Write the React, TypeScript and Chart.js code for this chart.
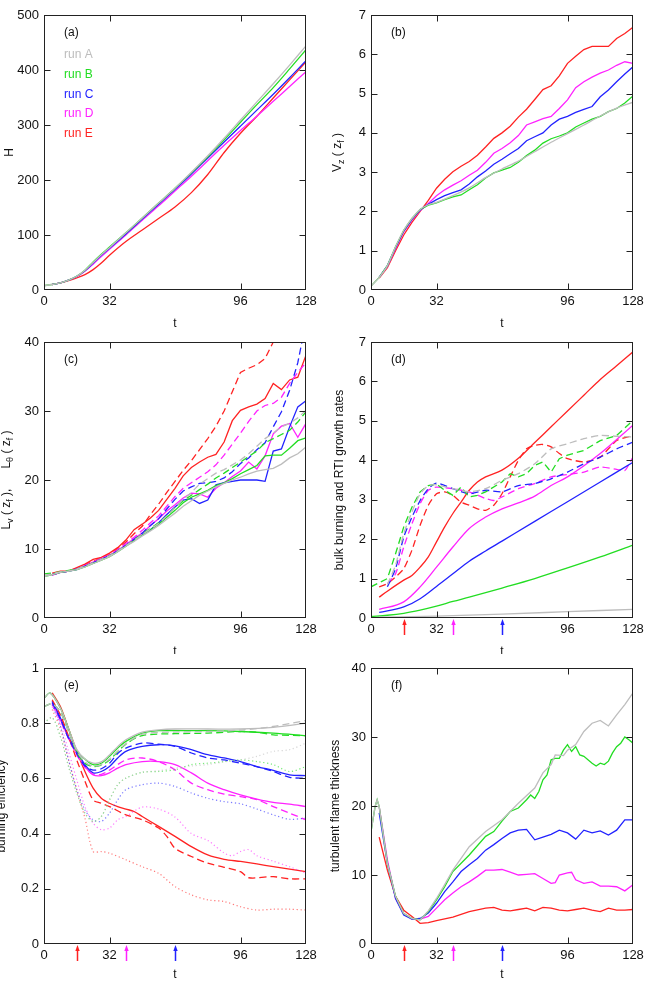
import React, { useEffect, useRef } from 'react';
import { Chart, registerables } from 'chart.js';
Chart.register(...registerables);

const FONT = '"Liberation Sans", Arial, Helvetica, sans-serif';
const GRAY = '#bdbdbd';
const GREEN = '#22dd22';
const BLUE = '#2222ff';
const MAGENTA = '#ff22ff';
const RED = '#ff2222';
const RUNS = ['run A', 'run B', 'run C', 'run D', 'run E'];
const RUN_COLORS = [GRAY, GREEN, BLUE, MAGENTA, RED];
const X_TICKS = [0, 32, 96, 128];
const ARROW_T = [16, 40, 64];
const ARROW_COLORS = [RED, MAGENTA, BLUE];

// ---------- (a) H ----------
const aGray = [[0,8],[4,10],[8,13],[12,18],[16,25],[20,36],[24,50],[28,64],[32,77],[40,104],[48,131],[56,158],[64,185],[72,214],[80,244],[88,276],[96,309],[104,342],[112,375],[120,409],[128,444]];
const aGreen = [[0,8],[4,10],[8,13],[12,18],[16,25],[20,36],[24,51],[28,65],[32,78],[40,104],[48,131],[56,158],[64,185],[72,213],[80,242],[88,273],[96,305],[104,337],[112,368],[120,402],[128,437]];
const aBlue = [[4,10],[8,13],[12,18],[16,25],[20,35],[24,49],[28,63],[32,76],[40,102],[48,129],[56,156],[64,183],[72,211],[80,240],[88,269],[96,298],[104,327],[112,356],[120,386],[128,417]];
const aMagenta = [[4,10],[8,13],[12,18],[16,24],[20,34],[24,47],[28,61],[32,74],[40,100],[48,127],[56,153],[64,180],[72,207],[80,235],[88,263],[96,290],[104,316],[112,343],[120,370],[128,397]];
const aRed = [[4,10],[8,13],[12,17],[16,22],[20,28],[24,37],[28,49],[32,63],[40,88],[48,109],[56,130],[64,151],[72,177],[80,210],[88,250],[96,285],[104,316],[112,349],[120,382],[128,415]];

// ---------- (b) Vz(zf) ----------
const bGray = [[0,0.1],[4,0.32],[8,0.62],[12,1.1],[16,1.52],[20,1.82],[24,2.05],[28,2.17],[32,2.23],[40,2.4],[48,2.6],[56,2.86],[64,3.08],[72,3.28],[80,3.52],[88,3.76],[96,3.98],[104,4.2],[112,4.43],[120,4.63],[128,4.78]];
const bGreen = [[0,0.1],[4,0.32],[8,0.62],[12,1.1],[16,1.52],[20,1.82],[24,2.05],[28,2.16],[32,2.22],[36,2.3],[40,2.37],[44,2.42],[48,2.55],[52,2.68],[56,2.85],[60,2.98],[64,3.05],[68,3.12],[72,3.25],[76,3.42],[80,3.56],[84,3.74],[88,3.85],[92,3.92],[96,4.0],[100,4.15],[104,4.25],[108,4.35],[112,4.42],[116,4.54],[120,4.62],[124,4.76],[128,4.94]];
const bBlue = [[4,0.32],[8,0.62],[12,1.08],[16,1.5],[20,1.8],[24,2.04],[28,2.18],[32,2.3],[36,2.4],[40,2.48],[44,2.55],[48,2.7],[52,2.88],[56,3.03],[60,3.2],[64,3.33],[68,3.47],[72,3.6],[76,3.8],[80,3.9],[84,4.0],[88,4.2],[92,4.35],[96,4.42],[100,4.52],[104,4.6],[108,4.67],[112,4.92],[116,5.09],[120,5.3],[124,5.5],[128,5.68]];
const bMagenta = [[4,0.32],[8,0.6],[12,1.06],[16,1.48],[20,1.78],[24,2.02],[28,2.2],[32,2.4],[36,2.55],[40,2.67],[44,2.78],[48,2.92],[52,3.05],[56,3.25],[60,3.48],[64,3.6],[68,3.75],[72,3.93],[76,4.2],[80,4.28],[84,4.36],[88,4.42],[92,4.62],[96,4.84],[100,5.15],[104,5.3],[108,5.42],[112,5.52],[116,5.6],[120,5.72],[124,5.81],[128,5.77]];
const bRed = [[4,0.3],[8,0.57],[12,1.0],[16,1.4],[20,1.72],[24,2.0],[28,2.28],[32,2.59],[36,2.82],[40,3.01],[44,3.15],[48,3.27],[52,3.43],[56,3.64],[60,3.86],[64,4.0],[68,4.17],[72,4.4],[76,4.6],[80,4.85],[84,5.1],[88,5.2],[92,5.45],[96,5.77],[100,5.95],[104,6.12],[108,6.2],[112,6.2],[116,6.2],[120,6.4],[124,6.53],[128,6.69]];

// ---------- (c) Lv(zf) solid, Ltheta(zf) dashed ----------
const cGraySolid = [[0,6.0],[4,6.3],[8,6.6],[12,6.8],[16,7.0],[20,7.4],[24,7.9],[28,8.4],[32,8.9],[36,9.6],[40,10.4],[44,11.1],[48,11.9],[52,12.6],[56,13.4],[60,14.3],[64,15.2],[68,16.2],[72,17.0],[76,17.8],[80,18.4],[84,19.0],[88,19.5],[92,20.0],[96,20.4],[100,20.9],[104,21.3],[108,21.5],[112,21.7],[116,22.3],[120,23.2],[124,23.8],[128,24.8]];
const cGrayDash = [[0,6.2],[4,6.4],[8,6.7],[12,6.8],[16,7.1],[20,7.5],[24,8.0],[28,8.5],[32,9.0],[36,9.7],[40,10.5],[44,11.3],[48,12.1],[52,12.9],[56,13.7],[60,14.8],[64,16.0],[68,17.2],[72,18.2],[76,19.4],[80,20.2],[84,21.0],[88,21.5],[92,22.2],[96,22.9],[100,23.8],[104,24.9],[108,26.0],[112,26.8],[116,27.7],[120,28.2],[124,29.0],[128,30.1]];
const cGreenSolid = [[0,6.0],[4,6.3],[8,6.6],[12,6.8],[16,7.0],[20,7.4],[24,7.9],[28,8.4],[32,8.9],[36,9.6],[40,10.4],[44,11.2],[48,12.0],[52,12.8],[56,13.6],[60,14.6],[64,15.6],[68,16.7],[72,17.5],[76,18.0],[80,18.5],[84,19.2],[88,19.6],[92,20.2],[96,20.9],[100,21.5],[104,22.1],[108,23.5],[112,23.6],[116,23.6],[120,24.6],[124,25.7],[128,26.1]];
const cGreenDash = [[0,6.4],[4,6.5],[8,6.7],[12,6.9],[16,7.1],[20,7.5],[24,8.0],[28,8.5],[32,9.0],[36,9.7],[40,10.5],[44,11.3],[48,12.2],[52,13.0],[56,13.8],[60,14.8],[64,16.0],[68,17.0],[72,17.8],[76,18.6],[80,19.4],[84,20.3],[88,21.0],[92,21.8],[96,22.6],[100,23.4],[104,24.2],[108,25.4],[112,26.0],[116,26.6],[120,27.2],[124,28.4],[128,29.9]];
const cBlueSolid = [[4,6.3],[8,6.6],[12,6.8],[16,7.0],[20,7.5],[24,8.0],[28,8.5],[32,9.0],[36,9.7],[40,10.5],[44,11.3],[48,12.0],[52,12.8],[56,13.8],[60,15.0],[64,16.1],[68,17.1],[72,17.3],[76,16.6],[80,17.1],[84,19.3],[88,19.6],[92,19.8],[96,20.0],[100,20.0],[104,20.0],[108,19.8],[112,24.2],[116,24.5],[120,27.7],[124,30.6],[128,31.5]];
const cBlueDash = [[4,6.3],[8,6.6],[12,6.8],[16,7.1],[20,7.5],[24,8.0],[28,8.5],[32,9.0],[36,9.7],[40,10.5],[44,11.4],[48,12.3],[52,13.4],[56,14.4],[60,15.8],[64,17.2],[68,18.4],[72,19.0],[76,19.5],[80,19.6],[84,19.8],[88,20.3],[92,21.2],[96,22.4],[100,23.2],[104,24.4],[108,25.4],[112,27.7],[116,29.9],[120,33.0],[124,37.0],[128,43.0]];
const cMagentaSolid = [[4,6.2],[8,6.6],[12,6.8],[16,7.1],[20,7.6],[24,8.1],[28,8.6],[32,9.1],[36,9.8],[40,10.6],[44,11.5],[48,12.3],[52,13.4],[56,14.4],[60,15.5],[64,16.4],[68,17.4],[72,18.1],[76,18.0],[80,17.5],[84,18.8],[88,19.6],[92,20.5],[96,21.3],[100,22.6],[104,21.6],[108,23.5],[112,26.7],[116,27.8],[120,28.2],[124,26.2],[128,28.2]];
const cMagentaDash = [[4,6.2],[8,6.6],[12,6.8],[16,7.1],[20,7.6],[24,8.1],[28,8.6],[32,9.1],[36,9.9],[40,10.8],[44,11.7],[48,12.7],[52,13.8],[56,14.8],[60,16.2],[64,17.6],[68,18.8],[72,19.6],[76,20.4],[80,21.2],[84,22.2],[88,23.6],[92,25.2],[96,26.8],[100,28.5],[104,30.0],[108,30.8],[112,31.1],[116,32.0],[120,34.0],[124,35.6],[128,37.0]];
const cRedSolid = [[4,6.5],[8,6.8],[12,6.8],[16,7.3],[20,7.8],[24,8.5],[28,8.8],[32,9.4],[36,10.2],[40,11.3],[44,12.8],[48,13.6],[52,14.5],[56,15.6],[60,17.2],[64,18.8],[68,20.6],[72,21.8],[76,22.6],[80,23.3],[84,23.7],[88,25.5],[92,28.6],[96,30.1],[100,30.6],[104,31.0],[108,31.8],[112,34.0],[116,33.1],[120,34.5],[124,34.9],[128,38.1]];
const cRedDash = [[4,6.3],[8,6.6],[12,6.8],[16,7.2],[20,7.7],[24,8.2],[28,8.7],[32,9.2],[36,10.0],[40,11.0],[44,12.2],[48,13.3],[52,15.0],[56,16.5],[60,18.2],[64,19.8],[68,21.4],[72,22.8],[76,24.4],[80,26.0],[84,27.8],[88,30.0],[92,32.8],[96,35.6],[100,36.2],[104,36.7],[108,37.6],[112,40.0],[116,42.5],[120,45.0]];

// ---------- (d) bulk burning (solid) and RTI growth rates (dashed) ----------
const dGraySolid = [[4,0.02],[32,0.05],[64,0.1],[96,0.16],[128,0.22]];
const dGreenSolid = [[0,0.04],[8,0.07],[16,0.12],[24,0.2],[32,0.3],[40,0.42],[48,0.53],[64,0.76],[80,1.0],[96,1.27],[112,1.55],[128,1.85]];
const dBlueSolid = [[4,0.14],[16,0.28],[24,0.49],[32,0.8],[40,1.12],[48,1.44],[56,1.7],[64,1.95],[80,2.45],[96,2.95],[112,3.45],[128,3.95]];
const dMagentaSolid = [[4,0.22],[16,0.41],[24,0.79],[32,1.29],[40,1.8],[48,2.27],[56,2.56],[64,2.77],[72,2.92],[80,3.09],[88,3.36],[96,3.58],[112,4.17],[128,4.89]];
const dRedSolid = [[4,0.53],[8,0.68],[16,0.96],[20,1.08],[24,1.29],[28,1.55],[32,1.93],[36,2.31],[40,2.65],[44,2.94],[48,3.24],[52,3.45],[56,3.58],[64,3.75],[72,4.05],[80,4.45],[88,4.85],[96,5.25],[104,5.65],[112,6.05],[120,6.4],[128,6.75]];
const dGrayDash = [[8,0.85],[12,1.34],[16,2.14],[20,2.69],[24,3.15],[28,3.36],[32,3.38],[40,3.28],[48,3.2],[56,3.28],[64,3.49],[72,3.66],[80,3.91],[88,4.29],[96,4.42],[104,4.55],[112,4.63],[120,4.61],[128,4.59]];
const dGreenDash = [[0,0.79],[8,1.0],[12,1.63],[16,2.31],[20,2.81],[24,3.2],[28,3.36],[32,3.4],[36,3.24],[40,3.11],[44,3.32],[48,3.07],[52,3.11],[56,3.2],[64,3.45],[68,3.66],[72,3.58],[76,3.66],[80,3.87],[84,3.96],[88,3.7],[92,4.04],[96,4.13],[104,4.25],[112,4.5],[120,4.63],[128,5.01]];
const dBlueDash = [[8,0.79],[12,1.25],[16,2.05],[20,2.56],[24,2.98],[28,3.28],[32,3.42],[40,3.28],[48,3.15],[56,3.24],[64,3.2],[72,3.36],[80,3.41],[88,3.53],[96,3.7],[104,3.91],[112,4.08],[120,4.29],[128,4.46]];
const dMagentaDash = [[8,0.87],[12,1.12],[16,1.8],[20,2.39],[24,2.9],[28,3.24],[32,3.32],[40,3.28],[48,3.2],[56,3.03],[60,2.98],[64,3.07],[72,3.28],[80,3.41],[88,3.58],[96,3.64],[104,3.7],[112,3.83],[120,3.77],[124,3.74],[128,4.08]];
const dRedDash = [[4,0.79],[8,0.87],[12,1.04],[16,1.25],[20,1.72],[24,2.35],[28,2.86],[32,3.15],[36,3.2],[40,3.11],[44,2.94],[48,2.86],[52,2.77],[56,2.73],[60,2.86],[64,3.15],[68,3.58],[72,4.0],[76,4.29],[80,4.38],[84,4.4],[88,4.34],[92,4.17],[96,4.04],[104,3.96],[112,4.08],[120,4.5],[128,4.63]];

// ---------- (e) burning efficiency: solid, dashed, dotted ----------
const eGraySolid = [[0,0.89],[3,0.91],[8,0.855],[12,0.78],[16,0.705],[20,0.67],[24,0.655],[28,0.66],[32,0.685],[36,0.715],[40,0.74],[48,0.768],[56,0.776],[64,0.779],[80,0.779],[96,0.779],[112,0.785],[128,0.8]];
const eGreenSolid = [[0,0.89],[3,0.91],[8,0.855],[12,0.78],[16,0.7],[20,0.67],[24,0.65],[28,0.655],[32,0.68],[36,0.71],[40,0.734],[48,0.764],[56,0.773],[64,0.773],[80,0.773],[96,0.77],[112,0.764],[128,0.755]];
const eBlueSolid = [[4,0.88],[8,0.82],[12,0.75],[16,0.7],[20,0.65],[24,0.62],[28,0.625],[32,0.643],[36,0.674],[40,0.698],[48,0.716],[56,0.722],[64,0.718],[72,0.704],[80,0.686],[88,0.674],[96,0.661],[104,0.643],[112,0.629],[120,0.613],[128,0.61]];
const eMagentaSolid = [[4,0.873],[8,0.813],[12,0.746],[16,0.69],[20,0.643],[24,0.613],[28,0.61],[32,0.62],[36,0.637],[40,0.65],[48,0.661],[56,0.661],[64,0.65],[72,0.62],[80,0.583],[88,0.559],[96,0.54],[104,0.525],[112,0.513],[120,0.507],[128,0.498]];
const eRedSolid = [[4,0.91],[8,0.86],[12,0.78],[16,0.698],[20,0.625],[24,0.565],[28,0.528],[32,0.51],[36,0.498],[40,0.489],[44,0.48],[48,0.462],[56,0.426],[64,0.39],[72,0.353],[80,0.323],[88,0.307],[96,0.299],[104,0.29],[112,0.28],[120,0.271],[128,0.262]];
const eGrayDash = [[0,0.86],[4,0.87],[8,0.84],[12,0.77],[16,0.7],[20,0.66],[24,0.645],[28,0.65],[32,0.67],[40,0.726],[48,0.76],[64,0.768],[80,0.77],[96,0.775],[112,0.788],[128,0.81]];
const eGreenDash = [[0,0.86],[4,0.87],[8,0.84],[12,0.77],[16,0.695],[20,0.655],[24,0.643],[28,0.648],[32,0.667],[40,0.724],[48,0.755],[64,0.762],[80,0.764],[96,0.77],[104,0.767],[112,0.758],[128,0.755]];
const eBlueDash = [[4,0.875],[8,0.815],[12,0.745],[16,0.69],[20,0.645],[24,0.63],[28,0.635],[32,0.655],[36,0.69],[40,0.71],[48,0.728],[56,0.724],[64,0.716],[72,0.692],[80,0.674],[88,0.667],[96,0.655],[104,0.643],[112,0.625],[120,0.604],[128,0.6]];
const eMagentaDash = [[4,0.87],[8,0.81],[12,0.745],[16,0.685],[20,0.64],[24,0.615],[28,0.615],[32,0.63],[40,0.667],[48,0.674],[56,0.661],[64,0.631],[72,0.583],[80,0.559],[88,0.543],[96,0.534],[104,0.523],[112,0.498],[120,0.474],[128,0.45]];
const eRedDash = [[4,0.885],[8,0.83],[12,0.752],[16,0.667],[20,0.59],[24,0.522],[28,0.51],[32,0.498],[40,0.468],[48,0.45],[56,0.42],[60,0.39],[64,0.347],[72,0.317],[80,0.293],[88,0.278],[96,0.262],[100,0.24],[112,0.244],[120,0.236],[128,0.236]];
const eGrayDot = [[0,0.8],[4,0.82],[8,0.752],[12,0.643],[16,0.547],[20,0.474],[24,0.444],[28,0.462],[32,0.522],[36,0.577],[40,0.601],[48,0.622],[56,0.628],[64,0.637],[72,0.645],[80,0.65],[88,0.66],[96,0.667],[104,0.68],[112,0.698],[120,0.704],[128,0.728]];
const eGreenDot = [[0,0.8],[4,0.82],[8,0.752],[12,0.643],[16,0.547],[20,0.474],[24,0.444],[28,0.462],[32,0.522],[36,0.577],[40,0.601],[48,0.622],[56,0.625],[64,0.631],[72,0.65],[80,0.655],[88,0.661],[96,0.667],[104,0.661],[112,0.65],[120,0.625],[128,0.643]];
const eBlueDot = [[4,0.867],[8,0.79],[12,0.667],[16,0.56],[20,0.486],[24,0.45],[28,0.444],[32,0.474],[36,0.522],[40,0.559],[48,0.577],[56,0.583],[64,0.571],[72,0.547],[80,0.528],[88,0.516],[96,0.508],[104,0.489],[112,0.468],[120,0.452],[128,0.456]];
const eMagentaDot = [[4,0.86],[8,0.8],[12,0.698],[16,0.595],[20,0.498],[24,0.438],[28,0.414],[32,0.42],[36,0.45],[40,0.462],[48,0.496],[56,0.489],[64,0.46],[72,0.4],[80,0.375],[88,0.33],[92,0.32],[96,0.335],[100,0.342],[104,0.32],[112,0.3],[120,0.28],[128,0.256]];
const eRedDot = [[4,0.85],[8,0.78],[12,0.667],[16,0.56],[20,0.456],[24,0.335],[28,0.335],[32,0.329],[40,0.305],[48,0.28],[56,0.256],[64,0.208],[72,0.178],[80,0.16],[88,0.154],[96,0.135],[104,0.123],[112,0.126],[120,0.126],[128,0.123]];

// ---------- (f) turbulent flame thickness ----------
const fGray = [[0,16.3],[2,19.9],[3,20.9],[4,19.9],[8,11.7],[12,6.9],[16,4.4],[20,3.7],[24,3.5],[28,4.8],[32,6.6],[36,8.6],[40,10.7],[48,14.1],[56,16.3],[64,18.0],[72,20.4],[80,22.6],[84,24.8],[88,26.0],[90,27.4],[94,27.3],[96,28.1],[100,28.9],[104,30.8],[108,32.0],[112,32.4],[116,31.6],[120,33.2],[124,34.7],[128,36.4]];
const fGreen = [[0,16.3],[2,19.9],[3,20.9],[4,19.9],[8,11.7],[12,6.9],[16,4.4],[20,3.7],[24,3.5],[28,4.7],[32,6.4],[36,8.3],[40,10.5],[48,12.9],[56,15.6],[60,16.3],[64,17.8],[68,19.2],[72,19.7],[76,20.9],[78,21.6],[80,21.1],[82,22.1],[84,23.8],[86,24.5],[88,26.7],[90,26.9],[92,26.9],[94,28.1],[96,28.9],[98,27.9],[100,28.6],[102,27.4],[104,27.2],[108,26.2],[110,25.8],[112,26.2],[114,26.0],[116,26.5],[118,27.7],[120,28.6],[122,29.1],[124,30.0],[126,29.6],[128,29.1]];
const fBlue = [[4,19.0],[8,11.7],[12,6.6],[16,4.2],[20,3.6],[24,3.7],[28,4.5],[32,5.9],[36,7.6],[40,9.0],[44,10.5],[48,11.5],[52,12.4],[56,13.6],[60,14.4],[64,15.3],[68,16.1],[72,16.5],[76,16.6],[80,15.1],[84,15.5],[88,15.9],[92,16.5],[96,16.1],[100,15.2],[104,16.5],[108,16.1],[112,16.4],[116,15.8],[120,16.5],[124,18.0],[128,18.0]];
const fMagenta = [[4,19.9],[8,12.2],[12,6.6],[16,4.4],[20,3.6],[24,3.6],[28,4.0],[32,5.2],[36,6.4],[40,7.4],[44,8.3],[48,9.0],[52,9.8],[56,10.7],[60,10.7],[64,10.8],[68,10.4],[72,10.0],[76,10.1],[80,10.2],[84,9.5],[88,8.8],[90,8.9],[92,10.0],[96,10.3],[98,10.4],[100,9.3],[104,8.8],[108,9.0],[112,8.4],[116,8.4],[120,8.3],[124,7.7],[128,8.6]];
const fRed = [[4,15.5],[8,10.7],[12,6.9],[16,4.9],[20,4.0],[24,3.0],[28,3.1],[32,3.4],[40,3.9],[48,4.7],[56,5.2],[60,5.3],[64,4.9],[68,4.8],[72,5.0],[76,5.2],[80,4.8],[84,5.3],[88,5.2],[92,4.9],[96,4.8],[100,5.0],[104,5.2],[108,4.9],[112,4.7],[116,5.2],[120,4.9],[124,4.9],[128,5.0]];

const DASH = [7, 4];
const DOT = [1.2, 2.6];

type Seg = { t: string; sub?: boolean };
type Series = { data: number[][]; color: string; dash?: number[]; tension?: number; mono?: boolean };
type Panel = {
  key: string; left: number; top: number; padTop: number; xAxisH: number;
  yMax: number; yStep: number; label: string; yTitle: Seg[]; yTitleX: number;
  xTitleOffset: number; series: Series[]; arrows?: boolean; legend?: boolean;
};

const S = (data: number[][], color: string, extra: Partial<Series> = {}): Series => ({ data, color, ...extra });

const PANELS: Panel[] = [
  {
    key: 'a', left: 0, top: 0, padTop: 15, xAxisH: 37, yMax: 500, yStep: 100, label: '(a)',
    yTitle: [{ t: 'H' }], yTitleX: 13, xTitleOffset: 37, legend: true,
    series: [S(aGray, GRAY, { mono: true }), S(aGreen, GREEN, { mono: true }), S(aBlue, BLUE, { mono: true }), S(aMagenta, MAGENTA, { mono: true }), S(aRed, RED, { mono: true })],
  },
  {
    key: 'b', left: 327, top: 0, padTop: 15, xAxisH: 37, yMax: 7, yStep: 1, label: '(b)',
    yTitle: [{ t: 'V' }, { t: 'z', sub: true }, { t: ' ( ' }, { t: 'z' }, { t: 'f', sub: true }, { t: ' )' }], yTitleX: 14, xTitleOffset: 37,
    series: [S(bGray, GRAY, { tension: 0.2 }), S(bGreen, GREEN), S(bBlue, BLUE), S(bMagenta, MAGENTA), S(bRed, RED)],
  },
  {
    key: 'c', left: 0, top: 327, padTop: 15, xAxisH: 36, yMax: 40, yStep: 10, label: '(c)',
    yTitle: [{ t: 'L' }, { t: 'v', sub: true }, { t: ' ( ' }, { t: 'z' }, { t: 'f', sub: true }, { t: ' ),      ' }, { t: 'L' }, { t: 'θ', sub: true }, { t: ' ( ' }, { t: 'z' }, { t: 'f', sub: true }, { t: ' )' }],
    yTitleX: 10, xTitleOffset: 37,
    series: [
      S(cGraySolid, GRAY), S(cGrayDash, GRAY, { dash: DASH }),
      S(cGreenSolid, GREEN), S(cGreenDash, GREEN, { dash: DASH }),
      S(cBlueSolid, BLUE), S(cBlueDash, BLUE, { dash: DASH }),
      S(cMagentaSolid, MAGENTA), S(cMagentaDash, MAGENTA, { dash: DASH }),
      S(cRedSolid, RED), S(cRedDash, RED, { dash: DASH }),
    ],
  },
  {
    key: 'd', left: 327, top: 327, padTop: 15, xAxisH: 36, yMax: 7, yStep: 1, label: '(d)',
    yTitle: [{ t: 'bulk burning and RTI growth rates' }], yTitleX: 16, xTitleOffset: 37, arrows: true,
    series: [
      S(dGraySolid, GRAY, { mono: true }), S(dGrayDash, GRAY, { dash: DASH, tension: 0.2 }),
      S(dGreenSolid, GREEN, { mono: true }), S(dGreenDash, GREEN, { dash: DASH }),
      S(dBlueSolid, BLUE, { mono: true }), S(dBlueDash, BLUE, { dash: DASH, tension: 0.2 }),
      S(dMagentaSolid, MAGENTA, { mono: true }), S(dMagentaDash, MAGENTA, { dash: DASH, tension: 0.2 }),
      S(dRedSolid, RED, { mono: true }), S(dRedDash, RED, { dash: DASH, tension: 0.2 }),
    ],
  },
  {
    key: 'e', left: 0, top: 654, padTop: 14, xAxisH: 37, yMax: 1, yStep: 0.2, label: '(e)',
    yTitle: [{ t: 'burning efficiency' }], yTitleX: 4.5, xTitleOffset: 34, arrows: true,
    series: [
      S(eGrayDot, GRAY, { dash: DOT, tension: 0.3 }), S(eGreenDot, GREEN, { dash: DOT, tension: 0.3 }), S(eBlueDot, BLUE, { dash: DOT, tension: 0.3 }), S(eMagentaDot, MAGENTA, { dash: DOT, tension: 0.3 }), S(eRedDot, RED, { dash: DOT, tension: 0.3 }),
      S(eGrayDash, GRAY, { dash: DASH, tension: 0.3 }), S(eGreenDash, GREEN, { dash: DASH, tension: 0.3 }), S(eBlueDash, BLUE, { dash: DASH, tension: 0.3 }), S(eMagentaDash, MAGENTA, { dash: DASH, tension: 0.3 }), S(eRedDash, RED, { dash: DASH, tension: 0.3 }),
      S(eGraySolid, GRAY, { tension: 0.3 }), S(eGreenSolid, GREEN, { tension: 0.3 }), S(eBlueSolid, BLUE, { tension: 0.3 }), S(eMagentaSolid, MAGENTA, { tension: 0.3 }), S(eRedSolid, RED, { tension: 0.3 }),
    ],
  },
  {
    key: 'f', left: 327, top: 654, padTop: 14, xAxisH: 37, yMax: 40, yStep: 10, label: '(f)',
    yTitle: [{ t: 'turbulent flame thickness' }], yTitleX: 12, xTitleOffset: 34, arrows: true,
    series: [S(fGray, GRAY), S(fGreen, GREEN), S(fBlue, BLUE), S(fMagenta, MAGENTA), S(fRed, RED)],
  },
];

const decorPlugin = {
  id: 'decor',
  afterDraw(chart: any, _args: any, opts: any) {
    const p: Panel = opts.panel;
    const { ctx, chartArea: ca, scales } = chart;
    const xs = scales.x;
    const ys = scales.y;
    const L = Math.round(ca.left) + 0.5;
    const R = Math.round(ca.right) - 0.5;
    const T = Math.round(ca.top) + 0.5;
    const B = Math.round(ca.bottom) - 0.5;
    ctx.save();
    ctx.strokeStyle = '#222';
    ctx.lineWidth = 1;
    ctx.setLineDash([]);
    ctx.strokeRect(L, T, R - L, B - T);
    const TL = 6;
    ctx.beginPath();
    ys.ticks.forEach((tk: any) => {
      if (tk.value <= 0 || tk.value >= p.yMax - 1e-9) return;
      const y = Math.round(ys.getPixelForValue(tk.value)) + 0.5;
      ctx.moveTo(L, y); ctx.lineTo(L + TL, y);
      ctx.moveTo(R, y); ctx.lineTo(R - TL, y);
    });
    X_TICKS.forEach((v) => {
      if (v <= 0 || v >= 128) return;
      const x = Math.round(xs.getPixelForValue(v)) + 0.5;
      ctx.moveTo(x, B); ctx.lineTo(x, B - TL);
      ctx.moveTo(x, T); ctx.lineTo(x, T + TL);
    });
    ctx.stroke();

    ctx.font = `12px ${FONT}`;
    ctx.fillStyle = '#111';
    ctx.textAlign = 'left';
    ctx.textBaseline = 'middle';
    ctx.fillText(p.label, ca.left + 20, ca.top + 17.5);

    if (p.legend) {
      RUNS.forEach((r, i) => {
        ctx.fillStyle = RUN_COLORS[i];
        ctx.fillText(r, ca.left + 20, ca.top + 40 + i * 19.6);
      });
    }

    // x title
    ctx.fillStyle = '#111';
    ctx.textAlign = 'center';
    ctx.textBaseline = 'alphabetic';
    ctx.fillText('t', (ca.left + ca.right) / 2, ca.bottom + p.xTitleOffset);

    // y title (rotated, with subscripts)
    const mainF = `12px ${FONT}`;
    const subF = `9px ${FONT}`;
    let total = 0;
    p.yTitle.forEach((sg) => { ctx.font = sg.sub ? subF : mainF; total += ctx.measureText(sg.t).width; });
    ctx.save();
    ctx.translate(p.yTitleX, (ca.top + ca.bottom) / 2);
    ctx.rotate(-Math.PI / 2);
    ctx.textAlign = 'left';
    let u = -total / 2;
    p.yTitle.forEach((sg) => {
      ctx.font = sg.sub ? subF : mainF;
      ctx.fillText(sg.t, u, sg.sub ? 3 : 0);
      u += ctx.measureText(sg.t).width;
    });
    ctx.restore();

    // arrows
    if (p.arrows) {
      ARROW_T.forEach((tv, i) => {
        const x = Math.round(xs.getPixelForValue(tv)) + 0.5;
        const y0 = ca.bottom + 1;
        ctx.strokeStyle = ARROW_COLORS[i];
        ctx.fillStyle = ARROW_COLORS[i];
        ctx.lineWidth = 1.5;
        ctx.beginPath();
        ctx.moveTo(x, y0 + 4);
        ctx.lineTo(x, y0 + 16);
        ctx.stroke();
        ctx.beginPath();
        ctx.moveTo(x, y0);
        ctx.lineTo(x - 2.2, y0 + 6);
        ctx.lineTo(x + 2.2, y0 + 6);
        ctx.closePath();
        ctx.fill();
      });
    }
    ctx.restore();
  },
};

const fmtTick = (v: number | string) => String(Number(Number(v).toFixed(3)));

const withAlpha = (hex: string, a: number) => {
  const n = parseInt(hex.slice(1), 16);
  return `rgba(${(n >> 16) & 255},${(n >> 8) & 255},${n & 255},${a})`;
};

function makeConfig(p: Panel): any {
  return {
    type: 'line',
    data: {
      datasets: p.series.map((s) => ({
        data: s.data.map(([x, y]) => ({ x, y })),
        borderColor: s.dash === DOT ? withAlpha(s.color, 0.6) : s.color,
        backgroundColor: s.color,
        borderWidth: s.dash === DOT ? 1.2 : 1.3,
        borderDash: s.dash || [],
        pointRadius: 0,
        fill: false,
        tension: s.tension ?? 0,
        cubicInterpolationMode: s.mono ? 'monotone' : 'default',
      })),
    },
    options: {
      responsive: false,
      animation: false,
      devicePixelRatio: 1,
      events: [],
      layout: { padding: { left: 0, right: 21, top: p.padTop, bottom: 0 } },
      plugins: {
        legend: { display: false },
        tooltip: { enabled: false },
        title: { display: false },
        decor: { panel: p },
      },
      scales: {
        x: {
          type: 'linear',
          min: 0,
          max: 128,
          afterBuildTicks: (sc: any) => { sc.ticks = X_TICKS.map((v) => ({ value: v })); },
          afterFit: (sc: any) => { sc.height = p.xAxisH; },
          grid: { display: false, drawTicks: false },
          border: { display: false },
          ticks: { color: '#111', font: { family: FONT, size: 13 }, padding: 4, maxRotation: 0, autoSkip: false, callback: fmtTick },
        },
        y: {
          type: 'linear',
          min: 0,
          max: p.yMax,
          afterFit: (sc: any) => { sc.width = 44; },
          grid: { display: false, drawTicks: false },
          border: { display: false },
          ticks: { color: '#111', font: { family: FONT, size: 13 }, padding: 5, stepSize: p.yStep, callback: fmtTick },
        },
      },
    },
    plugins: [decorPlugin],
  };
}

export default function App() {
  const refs = useRef<(HTMLCanvasElement | null)[]>([]);
  useEffect(() => {
    const charts = PANELS.map((p, i) => new Chart(refs.current[i] as HTMLCanvasElement, makeConfig(p)));
    return () => charts.forEach((c) => c.destroy());
  }, []);
  return (
    <div style={{ position: 'absolute', left: 0, top: 0, width: 654, height: 981, background: '#fff', overflow: 'hidden' }}>
      {PANELS.map((p, i) => (
        <canvas
          key={p.key}
          ref={(el) => { refs.current[i] = el; }}
          width={327}
          height={327}
          style={{ position: 'absolute', left: p.left, top: p.top, width: 327, height: 327 }}
        />
      ))}
    </div>
  );
}
